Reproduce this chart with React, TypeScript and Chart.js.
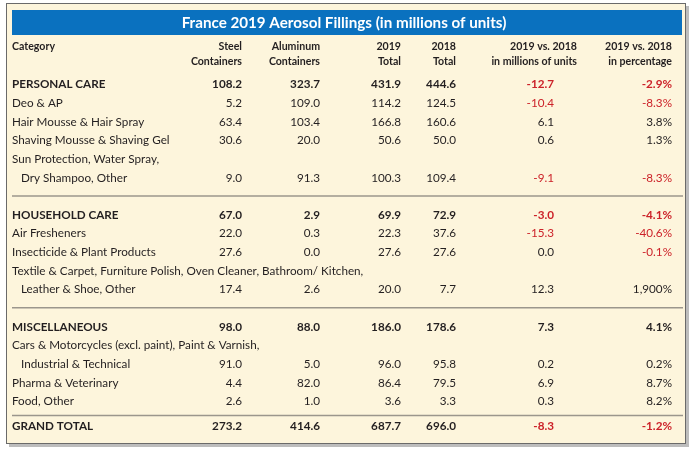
import React, { useEffect, useRef } from "react";
import { Chart, registerables } from "chart.js";

Chart.register(...registerables);

const W = 695;
const H = 452;

const title = "France 2019 Aerosol Fillings (in millions of units)";
const columnHeaders: string[][] = [
  ["Category"],
  ["Steel", "Containers"],
  ["Aluminum", "Containers"],
  ["2019", "Total"],
  ["2018", "Total"],
  ["2019 vs. 2018", "in millions of units"],
  ["2019 vs. 2018", "in percentage"],
];
const categories = [
  "PERSONAL CARE",
  "Deo & AP",
  "Hair Mousse & Hair Spray",
  "Shaving Mousse & Shaving Gel",
  "Sun Protection, Water Spray,\nDry Shampoo, Other",
  "HOUSEHOLD CARE",
  "Air Fresheners",
  "Insecticide & Plant Products",
  "Textile & Carpet, Furniture Polish, Oven Cleaner, Bathroom/ Kitchen,\nLeather & Shoe, Other",
  "MISCELLANEOUS",
  "Cars & Motorcycles (excl. paint), Paint & Varnish,\nIndustrial & Technical",
  "Pharma & Veterinary",
  "Food, Other",
  "GRAND TOTAL",
];
const isTotalRow = [true, false, false, false, false, true, false, false, false, true, false, false, false, true];
const steel = [108.2, 5.2, 63.4, 30.6, 9.0, 67.0, 22.0, 27.6, 17.4, 98.0, 91.0, 4.4, 2.6, 273.2];
const aluminum = [323.7, 109.0, 103.4, 20.0, 91.3, 2.9, 0.3, 0.0, 2.6, 88.0, 5.0, 82.0, 1.0, 414.6];
const total2019 = [431.9, 114.2, 166.8, 50.6, 100.3, 69.9, 22.3, 27.6, 20.0, 186.0, 96.0, 86.4, 3.6, 687.7];
const total2018 = [444.6, 124.5, 160.6, 50.0, 109.4, 72.9, 37.6, 27.6, 7.7, 178.6, 95.8, 79.5, 3.3, 696.0];
const diffMillions = [-12.7, -10.4, 6.1, 0.6, -9.1, -3.0, -15.3, 0.0, 12.3, 7.3, 0.2, 6.9, 0.3, -8.3];
const diffPercent = [-2.9, -8.3, 3.8, 1.3, -8.3, -4.1, -40.6, -0.1, 1900, 4.1, 0.2, 8.7, 8.2, -1.2];

// layout / style
const FONT = "Lato, 'Noto Sans', sans-serif";
const TEXT = "#231f20";
const RED = "#cc2229";
const BLUE = "#0a71bf";
const CREAM = "#fdf5dc";
const colRight = [0, 242, 320, 401, 456, 554, 672];
const headerRight = [0, 242, 320, 401, 456, 577, 672];
const leftX = 12;
const indentX = 21;
const firstRowY = 84.5;
const rowStep = 18.65;

const fmtNum = (v: number) => v.toFixed(1);
const fmtPct = (v: number) =>
  Math.abs(v) >= 1000
    ? v.toLocaleString("en-US", { maximumFractionDigits: 0 }) + "%"
    : v.toFixed(1) + "%";

const tablePlugin = {
  id: "tablePlugin",
  afterDraw(chart: any) {
    const ctx: CanvasRenderingContext2D = chart.ctx;
    const xs = chart.scales.x;
    const ys = chart.scales.y;
    const px = (v: number) => xs.getPixelForValue(v);
    const py = (v: number) => ys.getPixelForValue(v);
    ctx.save();
    // page + frame
    ctx.fillStyle = "#ffffff";
    ctx.fillRect(px(0), py(0), px(W) - px(0), py(H) - py(0));
    ctx.fillStyle = "#bdbdbd";
    ctx.fillRect(px(9), py(6), px(689) - px(9), py(447) - py(6));
    ctx.fillStyle = CREAM;
    ctx.fillRect(px(6), py(3), px(686) - px(6), py(444) - py(3));
    ctx.strokeStyle = "#6a6a6a";
    ctx.lineWidth = 1;
    ctx.strokeRect(px(6) + 0.5, py(3) + 0.5, px(686) - px(6) - 1, py(444) - py(3) - 1);

    // title bar
    ctx.fillStyle = BLUE;
    ctx.fillRect(px(12), py(10), px(682) - px(12), py(35) - py(10));
    ctx.fillStyle = "#ffffff";
    ctx.font = `bold 15.2px ${FONT}`;
    ctx.textAlign = "center";
    ctx.textBaseline = "middle";
    ctx.fillText(title, px(344), py(23));

    // headers
    ctx.fillStyle = TEXT;
    ctx.font = `bold 10.6px ${FONT}`;
    columnHeaders.forEach((lines, c) => {
      lines.forEach((t, li) => {
        const y = py(47 + li * 14.5);
        if (c === 0) {
          ctx.textAlign = "left";
          ctx.fillText(t, px(leftX), y);
        } else {
          ctx.textAlign = "right";
          ctx.fillText(t, px(headerRight[c]), y);
        }
      });
    });

    // body rows
    let slot = 0;
    const lastIdx = categories.length - 1;
    const sepY: number[] = [];
    categories.forEach((cat, i) => {
      const bold = isTotalRow[i];
      let y = 0;
      if (i === lastIdx) {
        const prevY = firstRowY + (slot - 1) * rowStep;
        sepY.push(prevY + 14);
        y = prevY + 25;
      } else if (bold && i > 0) {
        sepY.push(firstRowY + slot * rowStep - 0.5);
        slot += 1;
      }
      const lines = cat.split("\n");
      ctx.font = `${bold ? "bold " : ""}11.7px ${FONT}`;
      ctx.fillStyle = TEXT;
      ctx.textAlign = "left";
      lines.forEach((t, li) => {
        const ly = i === lastIdx ? y : firstRowY + (slot + li) * rowStep;
        ctx.fillText(t, px(li === 0 ? leftX : indentX), py(ly));
      });
      const valueY = i === lastIdx ? y : firstRowY + (slot + lines.length - 1) * rowStep;
      if (i !== lastIdx) slot += lines.length;
      const cells = [
        fmtNum(steel[i]),
        fmtNum(aluminum[i]),
        fmtNum(total2019[i]),
        fmtNum(total2018[i]),
        fmtNum(diffMillions[i]),
        fmtPct(diffPercent[i]),
      ];
      const neg = [false, false, false, false, diffMillions[i] < 0, diffPercent[i] < 0];
      ctx.textAlign = "right";
      cells.forEach((t, c) => {
        ctx.fillStyle = neg[c] ? RED : TEXT;
        ctx.fillText(t, px(colRight[c + 1]), py(valueY));
      });
    });

    // separators
    ctx.strokeStyle = "#9b968c";
    ctx.lineWidth = 1.5;
    sepY.forEach((s) => {
      ctx.beginPath();
      ctx.moveTo(px(12), py(s));
      ctx.lineTo(px(683), py(s));
      ctx.stroke();
    });
    ctx.restore();
  },
};

export default function App() {
  const ref = useRef<HTMLCanvasElement | null>(null);
  useEffect(() => {
    if (!ref.current) return;
    const chart = new Chart(ref.current, {
      type: "scatter",
      data: { datasets: [] },
      options: {
        animation: false,
        responsive: false,
        maintainAspectRatio: false,
        devicePixelRatio: 1,
        layout: { padding: 0 },
        plugins: { legend: { display: false }, tooltip: { enabled: false }, title: { display: false } },
        scales: {
          x: { type: "linear", min: 0, max: W, display: false },
          y: { type: "linear", min: 0, max: H, reverse: true, display: false },
        },
      },
      plugins: [tablePlugin],
    } as any);
    return () => chart.destroy();
  }, []);
  return (
    <div style={{ position: "absolute", left: 0, top: 0, width: W, height: H }}>
      <canvas ref={ref} width={W} height={H} style={{ display: "block", width: W, height: H }} />
    </div>
  );
}
